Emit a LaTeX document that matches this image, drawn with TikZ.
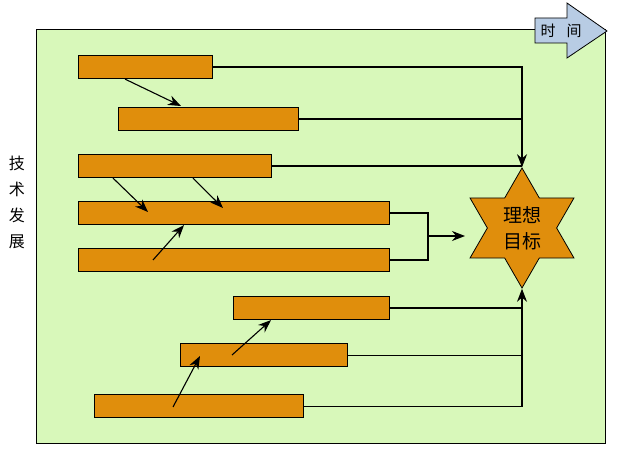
\documentclass[tikz,border=0pt]{standalone}
\usepackage{fontspec}
\newfontfamily\cjk{Noto Sans CJK SC}
\usetikzlibrary{arrows.meta,shapes.geometric}
\definecolor{bggreen}{RGB}{216,248,186}
\definecolor{barorange}{RGB}{224,142,12}
\definecolor{timeblue}{RGB}{184,204,228}

\begin{document}
\begin{tikzpicture}[x=1pt,y=-1pt,>={Stealth[length=13pt,width=10pt]},line width=1.1pt,
  bar node/.style={rectangle,fill=barorange,draw,anchor=north west,minimum height=23pt,inner sep=0pt},
  goal node/.style={star,star points=6,star point ratio=1.732,fill=barorange,draw,line width=0.8pt,
    minimum size=120pt,inner sep=0pt,align=center,font=\cjk\fontsize{19}{26}\selectfont},
  side node/.style={align=center,font=\cjk\fontsize{16}{26}\selectfont}]

  \useasboundingbox (0,0) rectangle (619,449);
  \draw[fill=bggreen,line width=1pt] (36,30) rectangle (605,443);

  % time arrow
  \draw[fill=timeblue,line width=0.8pt] (535,18) -- (567,18) -- (567,3) -- (607,31)
    -- (567,58) -- (567,43) -- (535,43) -- cycle;
  \node[font=\cjk\fontsize{15}{15}\selectfont] (time) at (561,31) {时\hspace{11pt}间};
  \node[side node] (axis) at (17,202) {技\\术\\发\\展};

  \node[bar node,minimum width=134pt] (b1) at (78,55) {};
  \node[bar node,minimum width=180pt] (b2) at (118,107) {};
  \node[bar node,minimum width=193pt] (b3) at (78,154) {};
  \node[bar node,minimum width=311pt] (b4) at (78,201) {};
  \node[bar node,minimum width=311pt] (b5) at (78,248) {};
  \node[bar node,minimum width=156pt] (b6) at (233,296) {};
  \node[bar node,minimum width=167pt] (b7) at (180,343) {};
  \node[bar node,minimum width=209pt] (b8) at (94,394) {};
  \node[goal node] (goal) at (522,228) {理想\\目标};

  \coordinate (j) at (428,236);
  \coordinate (jt) at (465,236);

  % to the goal
  \draw[->] (b1.east) -| (goal.north);
  \draw (b2.east) -- (b2.east -| goal.north);
  \draw (b3.east) -- (b3.east -| goal.north);
  \draw (b4.east) -| (j) |- (b5.east);
  \draw[->] (j) -- (jt);
  \draw[->] (b8.east) -| (goal.south);
  \draw (b7.east) -- (b7.east -| goal.south);
  \draw (b6.east) -- (b6.east -| goal.south);

  % between the bars
  \draw[->] ([xshift=47pt]b1.south west) -- ([xshift=63pt,yshift=1pt]b2.north west);
  \draw[->] ([xshift=35pt]b3.south west) -- ([xshift=70pt,yshift=-11pt]b4.north west);
  \draw[->] ([xshift=115pt]b3.south west) -- ([xshift=145pt,yshift=-7pt]b4.north west);
  \draw[->] ([xshift=75pt,yshift=-12pt]b5.north west) -- ([xshift=106pt]b4.south west);
  \draw[->] ([xshift=79pt,yshift=-13pt]b8.north west) -- ([xshift=20pt,yshift=-13pt]b7.north west);
  \draw[->] ([xshift=52pt,yshift=-12pt]b7.north west) -- ([xshift=38pt]b6.south west);

\end{tikzpicture}
\end{document}
